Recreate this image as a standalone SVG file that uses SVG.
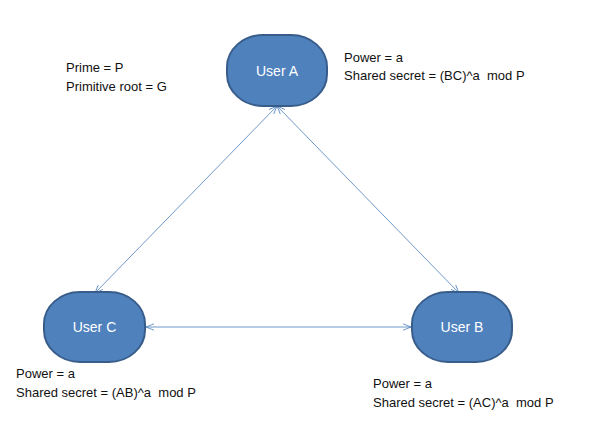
<svg xmlns="http://www.w3.org/2000/svg" width="595" height="446" viewBox="0 0 595 446">
<style>
.node{fill:#4F81BD;stroke:#385D8A;stroke-width:2}
.nl{fill:#fff;font-family:"Liberation Sans",Arial,sans-serif;font-size:14px;text-anchor:middle}
.t{fill:#111;font-family:"Liberation Sans",Arial,sans-serif;font-size:13px}
.c{stroke:#4A7EBB;stroke-width:0.8;fill:none;marker-start:url(#ah);marker-end:url(#ah)}
</style>
<defs>
<marker id="ah" viewBox="0 0 10 10" refX="10" refY="5" markerWidth="8" markerHeight="8" markerUnits="userSpaceOnUse" orient="auto-start-reverse">
<path d="M0,1 L10,5 L0,9" fill="none" stroke="#4A7EBB" stroke-width="1"/>
</marker>
</defs>
<rect width="595" height="446" fill="#fff"/>
<g id="connectors">
<line class="c" x1="277" y1="106" x2="95" y2="293"/>
<line class="c" x1="277" y1="106" x2="459" y2="293"/>
<line class="c" x1="146" y1="327" x2="411" y2="327"/>
</g>
<g id="userA">
<rect class="node" x="227" y="35" width="100" height="71" rx="36" ry="32"/>
<text class="nl" x="277" y="76">User A</text>
</g>
<g id="userC">
<rect class="node" x="44" y="292" width="101" height="70" rx="36" ry="32"/>
<text class="nl" x="94.5" y="332">User C</text>
</g>
<g id="userB">
<rect class="node" x="412" y="292" width="100" height="70" rx="36" ry="32"/>
<text class="nl" x="462" y="332">User B</text>
</g>
<g id="globals">
<text class="t" x="66" y="72">Prime = P</text>
<text class="t" x="66" y="91">Primitive root = G</text>
</g>
<g id="infoA">
<text class="t" x="344" y="62">Power = a</text>
<text class="t" x="344" y="80" xml:space="preserve">Shared secret = (BC)^a  mod P</text>
</g>
<g id="infoC">
<text class="t" x="16" y="378">Power = a</text>
<text class="t" x="16" y="397" xml:space="preserve">Shared secret = (AB)^a  mod P</text>
</g>
<g id="infoB">
<text class="t" x="373" y="388">Power = a</text>
<text class="t" x="373" y="407" xml:space="preserve">Shared secret = (AC)^a  mod P</text>
</g>
</svg>
